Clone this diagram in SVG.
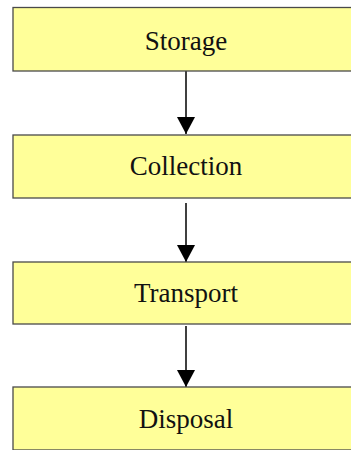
<svg xmlns="http://www.w3.org/2000/svg" width="351" height="450" viewBox="0 0 351 450">
<defs>
<style>
.box{fill:#ffff99;stroke:#4a4a4a;stroke-width:1.3}
.lbl{font-family:"Liberation Serif","Times New Roman",serif;font-size:27px;fill:#111;text-anchor:middle}
.edge{stroke:#000;stroke-width:1.5;fill:none;marker-end:url(#ah)}
</style>
<marker id="ah" markerUnits="userSpaceOnUse" viewBox="0 0 17 18" refX="17" refY="9" markerWidth="17" markerHeight="18" orient="auto">
<path d="M0,0 L17,9 L0,18 Z" fill="#000"/>
</marker>
</defs>
<rect width="351" height="450" fill="#fff"/>
<g id="connectors">
<line class="edge" x1="186" y1="71" x2="186" y2="134"/>
<line class="edge" x1="186" y1="203" x2="186" y2="262"/>
<line class="edge" x1="186" y1="326" x2="186" y2="387"/>
</g>
<g id="storage">
<rect class="box" x="13" y="7.5" width="346" height="63.5"/>
<text class="lbl" x="186" y="50">Storage</text>
</g>
<g id="collection">
<rect class="box" x="13" y="135" width="346" height="63"/>
<text class="lbl" x="186" y="175">Collection</text>
</g>
<g id="transport">
<rect class="box" x="13" y="262" width="346" height="62"/>
<text class="lbl" x="186" y="302">Transport</text>
</g>
<g id="disposal">
<rect class="box" x="13" y="387" width="346" height="63"/>
<text class="lbl" x="186" y="428">Disposal</text>
</g>
</svg>
